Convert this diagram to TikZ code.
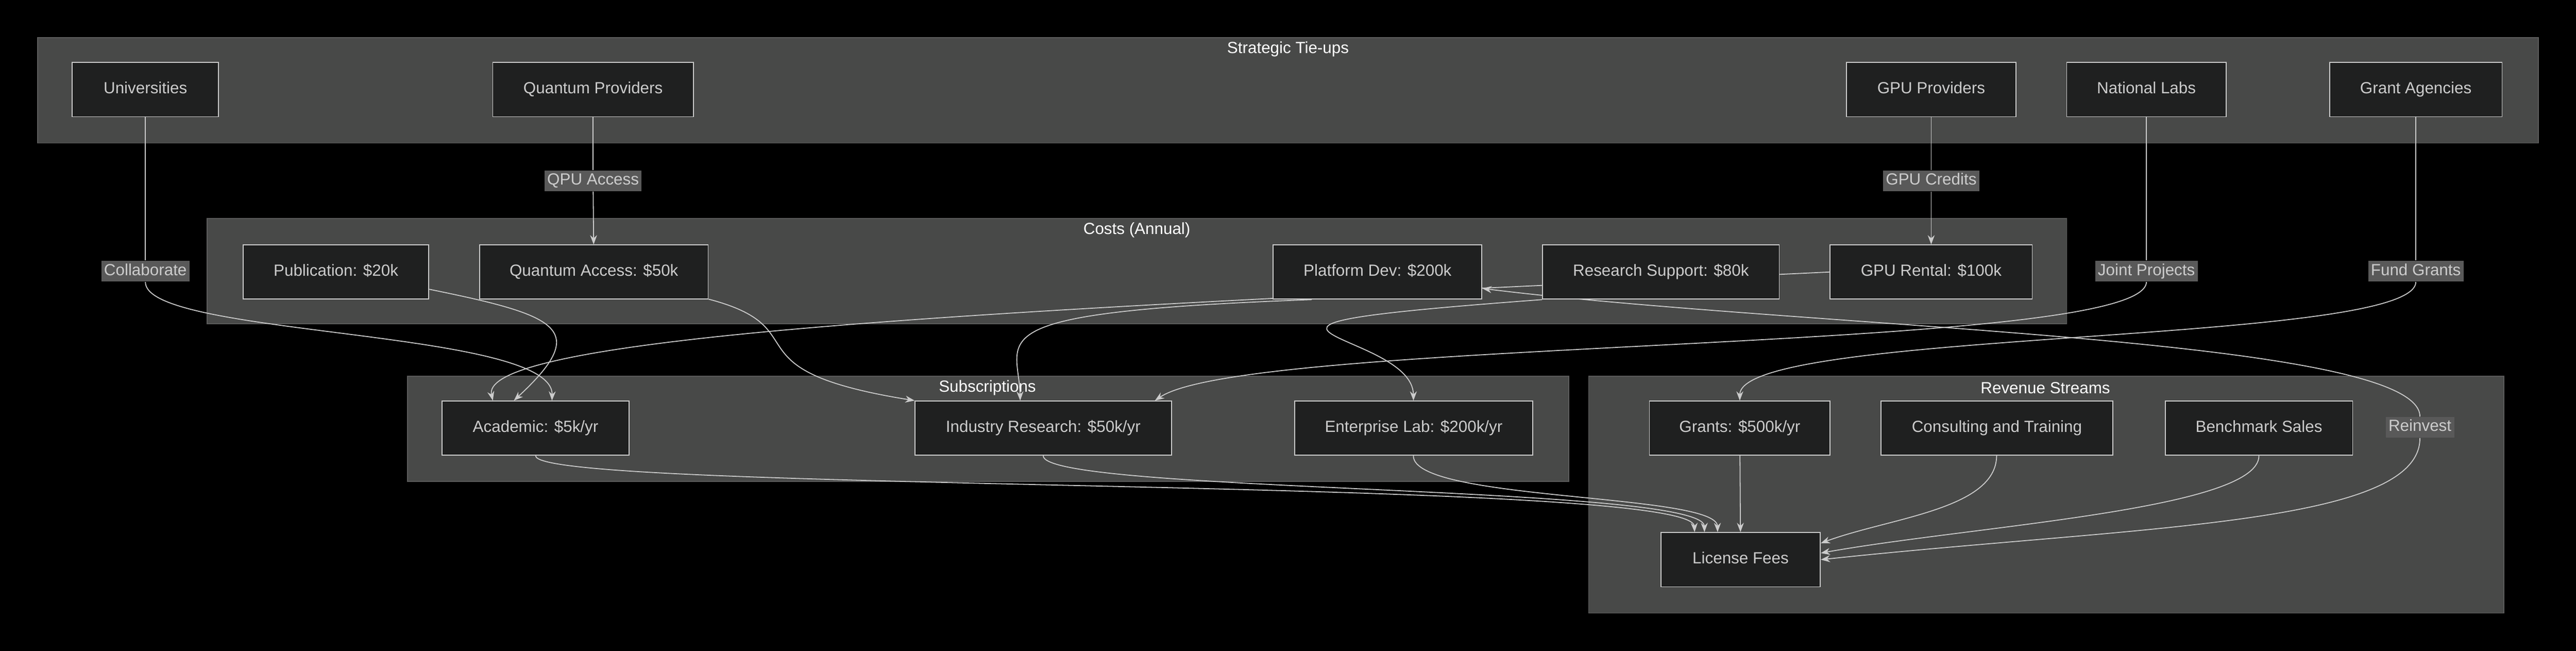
\documentclass[tikz,border=0pt]{standalone}
\usepackage{fontspec}
\setmainfont{Liberation Sans}
\usetikzlibrary{arrows.meta}
\definecolor{bgc}{HTML}{000000}
\definecolor{clc}{HTML}{484948}
\definecolor{clb}{HTML}{5C5C5C}
\definecolor{ndc}{HTML}{1F2020}
\definecolor{lnc}{HTML}{CCCCCC}
\definecolor{lbc}{HTML}{595959}
\pgfdeclarelayer{bg}
\pgfdeclarelayer{edges}
\pgfsetlayers{bg,edges,main}

\tikzstyle{n} = [rectangle, draw=lnc, fill=ndc, text=lnc, inner sep=0pt, minimum height=0.825cm, text height=5pt, text depth=1.5pt, font=\fontsize{7}{8}\selectfont]
\tikzstyle{lab} = [rectangle, fill=lbc, text=lnc, inner sep=1.2pt, text height=5pt, text depth=1.5pt, font=\fontsize{7}{8}\selectfont]
\tikzstyle{grp} = [draw=clb, fill=clc, line width=0.4pt]
\tikzstyle{ttl} = [text=white, font=\fontsize{7}{8}\selectfont]
\tikzstyle{e} = [draw=lnc, line width=0.4pt, -{Stealth[length=4pt,width=3pt]}]

\begin{document}
\begin{tikzpicture}[x=0.025cm, y=-0.025cm]
        % groups
        \begin{pgfonlayer}{bg}
            \fill[bgc] (0,0) rectangle (1568,396);
            \path[grp] (23,23) rectangle (1545,87);
            \path[grp] (126,133) rectangle (1258,197);
            \path[grp] (248,229) rectangle (955,293);
            \path[grp] (967,229) rectangle (1524,373);
        \end{pgfonlayer}
        \node[ttl] at (784,30) {Strategic Tie-ups};
        \node[ttl] at (692,140) {Costs (Annual)};
        \node[ttl] at (601,236) {Subscriptions};
        \node[ttl] at (1245,236) {Revenue Streams};

        % partners
        \node (uni) [n, minimum width=2.225cm] at (88.5,54.5) {Universities};
        \node (qpr) [n, minimum width=3.05cm] at (361,54.5) {Quantum Providers};
        \node (gpr) [n, minimum width=2.575cm] at (1175.5,54.5) {GPU Providers};
        \node (nlab) [n, minimum width=2.425cm] at (1306.5,54.5) {National Labs};
        \node (gag) [n, minimum width=2.625cm] at (1470.5,54.5) {Grant Agencies};

        % costs
        \node (pub) [n, minimum width=2.825cm] at (204.5,165.5) {Publication: \$20k};
        \node (qacc) [n, minimum width=3.475cm] at (361.5,165.5) {Quantum Access: \$50k};
        \node (plat) [n, minimum width=3.175cm] at (838.5,165.5) {Platform Dev: \$200k};
        \node (rsup) [n, minimum width=3.6cm] at (1011,165.5) {Research Support: \$80k};
        \node (gpu) [n, minimum width=3.075cm] at (1175.5,165.5) {GPU Rental: \$100k};

        % subscriptions
        \node (acad) [n, minimum width=2.85cm] at (326,260.5) {Academic: \$5k/yr};
        \node (ind) [n, minimum width=3.9cm] at (635,260.5) {Industry Research: \$50k/yr};
        \node (ent) [n, minimum width=3.625cm] at (860.5,260.5) {Enterprise Lab: \$200k/yr};

        % revenue
        \node (grant) [n, minimum width=2.75cm] at (1059,260.5) {Grants: \$500k/yr};
        \node (cons) [n, minimum width=3.525cm] at (1215.5,260.5) {Consulting and Training};
        \node (bench) [n, minimum width=2.85cm] at (1375,260.5) {Benchmark Sales};
        \node (lic) [n, minimum width=2.425cm] at (1059.5,340.5) {License Fees};

        % edge labels
        \node (coll) [lab] at (88.5,165) {Collaborate};
        \node (qpu) [lab] at (361,110) {QPU Access};
        \node (gcr) [lab] at (1175.5,110) {GPU Credits};
        \node (joint) [lab] at (1306.5,165) {Joint Projects};
        \node (fund) [lab] at (1470.5,165) {Fund Grants};
        \node (reinv) [lab] at (1473,260) {Reinvest};

        \begin{pgfonlayer}{edges}
        \draw[e, -] (uni) -- (coll);
        \draw[e] (coll.south) .. controls (88,205) and (337,200) .. ([xshift=0.25cm]acad.north);
        \draw[e, -] (qpr) -- (qpu);
        \draw[e] (qpu) -- (qacc);
        \draw[e, -] (gpr) -- (gcr);
        \draw[e] (gcr) -- (gpu);
        \draw[e, -] (nlab) -- (joint);
        \draw[e] (joint.south) .. controls (1306,215) and (760,205) .. ([xshift=1.7cm]ind.north);
        \draw[e, -] (gag) -- (fund);
        \draw[e] (fund.south) .. controls (1470,210) and (1059,200) .. (grant);

        \draw[e] (pub.east |- 0,176) .. controls (340,192) and (360,200) .. ([xshift=-0.33cm]acad.north);
        \draw[e] (qacc.east |- 0,182) .. controls (500,200) and (440,225) .. (ind.north west);
        \draw[e] (gpu.west) .. controls (700,185) and (290,200) .. ([xshift=-0.65cm]acad.north);
        \draw[e] ([xshift=-1cm]plat.south) .. controls (590,190) and (620,205) .. ([xshift=-0.35cm]ind.north);
        \draw[e] (rsup.south west) .. controls (700,200) and (860,200) .. (ent);

        \draw[e] (acad) .. controls (326,300) and (1030,290) .. ([xshift=-0.7cm]lic.north);
        \draw[e] (ind) .. controls (635,300) and (1037,295) .. ([xshift=-0.55cm]lic.north);
        \draw[e] (ent) .. controls (860,305) and (1045,300) .. ([xshift=-0.35cm]lic.north);
        \draw[e] (grant) -- (lic);
        \draw[e] (cons) .. controls (1215,310) and (1150,315) .. ([yshift=0.25cm]lic.east);
        \draw[e] (bench) .. controls (1375,310) and (1200,320) .. ([yshift=0.1cm]lic.east);
        \draw[e, {Stealth[length=4pt,width=3pt]}-] (lic.east) .. controls (1300,320) and (1473,320) .. (reinv.south);
        \draw[e] (reinv.north) .. controls (1473,205) and (1100,200) .. ([yshift=-0.25cm]plat.east);
        \end{pgfonlayer}
    \end{tikzpicture}
\end{document}
